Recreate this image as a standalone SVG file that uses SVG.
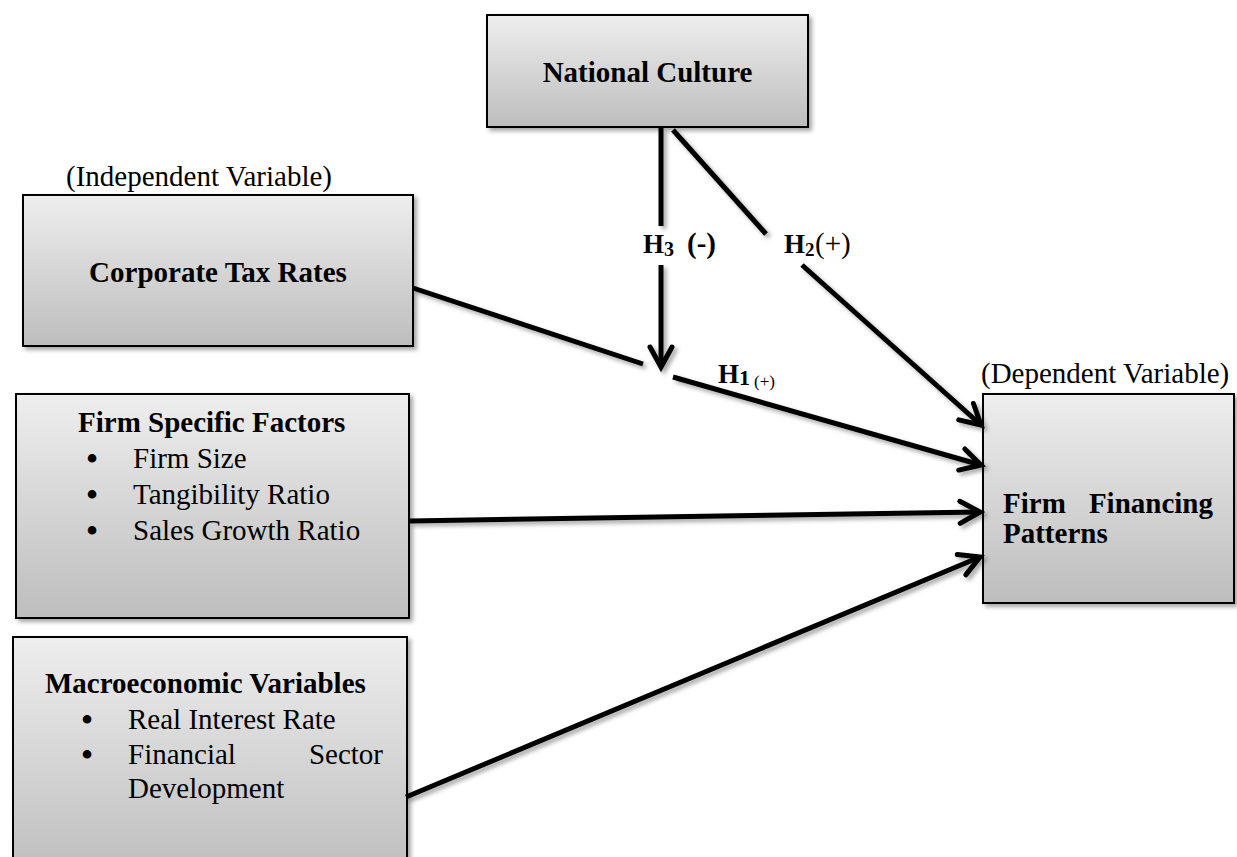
<svg xmlns="http://www.w3.org/2000/svg" width="1237" height="857" viewBox="0 0 1237 857">
<style>
.box{stroke:#000;stroke-width:2;fill:url(#g)}
.t{font-family:"Liberation Serif","Times New Roman",serif;font-size:29px;fill:#000}
.b{font-weight:bold}
.bu{font-family:"Liberation Serif","Times New Roman",serif;font-size:36px;fill:#000;text-anchor:middle}
.ln{fill:none;stroke:#000;stroke-width:5}
</style>
<defs>
<linearGradient id="g" x1="0" y1="0" x2="0" y2="1">
<stop offset="0" stop-color="#eeeeee"/>
<stop offset="1" stop-color="#bdbdbd"/>
</linearGradient>
<filter id="sh" x="-10%" y="-10%" width="130%" height="130%">
<feDropShadow dx="3" dy="3" stdDeviation="2" flood-color="#000" flood-opacity="0.35"/>
</filter>
<marker id="arr" markerUnits="userSpaceOnUse" markerWidth="50" markerHeight="50" viewBox="-30 -25 50 50" refX="0" refY="0" orient="auto" overflow="visible">
<path d="M-20,-11 L0,0 L-20,11" fill="none" stroke="#000" stroke-width="5" stroke-linecap="round"/>
</marker>
</defs>
<rect width="1237" height="857" fill="#fff"/>

<g id="national-culture">
<rect class="box" x="487" y="15" width="321" height="112" filter="url(#sh)"/>
<text class="t b" x="647.5" y="82" text-anchor="middle">National Culture</text>
</g>

<g id="corporate-tax">
<text class="t" x="66" y="186">(Independent Variable)</text>
<rect class="box" x="23" y="195" width="390" height="151" filter="url(#sh)"/>
<text class="t b" x="218" y="282" text-anchor="middle">Corporate Tax Rates</text>
</g>

<g id="firm-specific">
<rect class="box" x="16" y="394" width="393" height="224" filter="url(#sh)"/>
<text class="t b" x="78" y="432">Firm Specific Factors</text>
<text class="bu" x="92" y="471">•</text><text class="t" x="133" y="468">Firm Size</text>
<text class="bu" x="92" y="507">•</text><text class="t" x="133" y="504">Tangibility Ratio</text>
<text class="bu" x="92" y="543">•</text><text class="t" x="133" y="540">Sales Growth Ratio</text>
</g>

<g id="macro">
<rect class="box" x="13" y="637" width="394" height="240" filter="url(#sh)"/>
<text class="t b" x="45" y="693">Macroeconomic Variables</text>
<text class="bu" x="87" y="732">•</text><text class="t" x="128" y="729">Real Interest Rate</text>
<text class="bu" x="87" y="767">•</text><text class="t" x="128" y="764">Financial</text><text class="t" x="383" y="764" text-anchor="end">Sector</text>
<text class="t" x="128" y="798">Development</text>
</g>

<g id="firm-financing">
<text class="t" x="981" y="383">(Dependent Variable)</text>
<rect class="box" x="983" y="394" width="251" height="209" filter="url(#sh)"/>
<text class="t b" x="1003" y="513">Firm</text><text class="t b" x="1213" y="513" text-anchor="end">Financing</text>
<text class="t b" x="1003" y="543">Patterns</text>
</g>

<g id="connectors" filter="url(#sh)">
<line class="ln" x1="661" y1="128" x2="661" y2="226"/>
<line class="ln" x1="661" y1="265" x2="661" y2="367" marker-end="url(#arr)"/>
<line class="ln" x1="673" y1="130" x2="766" y2="234"/>
<line class="ln" x1="802" y1="265" x2="981" y2="425" marker-end="url(#arr)"/>
<line class="ln" x1="413" y1="288" x2="643" y2="364"/>
<line class="ln" x1="673" y1="377" x2="981" y2="465" marker-end="url(#arr)"/>
<line class="ln" x1="410" y1="521" x2="980" y2="512" marker-end="url(#arr)"/>
<line class="ln" x1="406" y1="797" x2="980" y2="557" marker-end="url(#arr)"/>
</g>

<g id="labels">
<text class="t b" x="643" y="253" style="font-size:27px">H</text>
<text class="t b" x="664" y="256" style="font-size:20px">3</text>
<text class="t b" x="687" y="253">(-)</text>
<text class="t b" x="784" y="253" style="font-size:27px">H</text>
<text class="t b" x="805" y="256" style="font-size:19px">2</text>
<text class="t" x="815" y="253">(+)</text>
<text class="t b" x="718" y="383" style="font-size:27px">H</text>
<text class="t b" x="739" y="385" style="font-size:22px">1</text>
<text class="t" x="754" y="387" style="font-size:17px">(+)</text>
</g>
</svg>
